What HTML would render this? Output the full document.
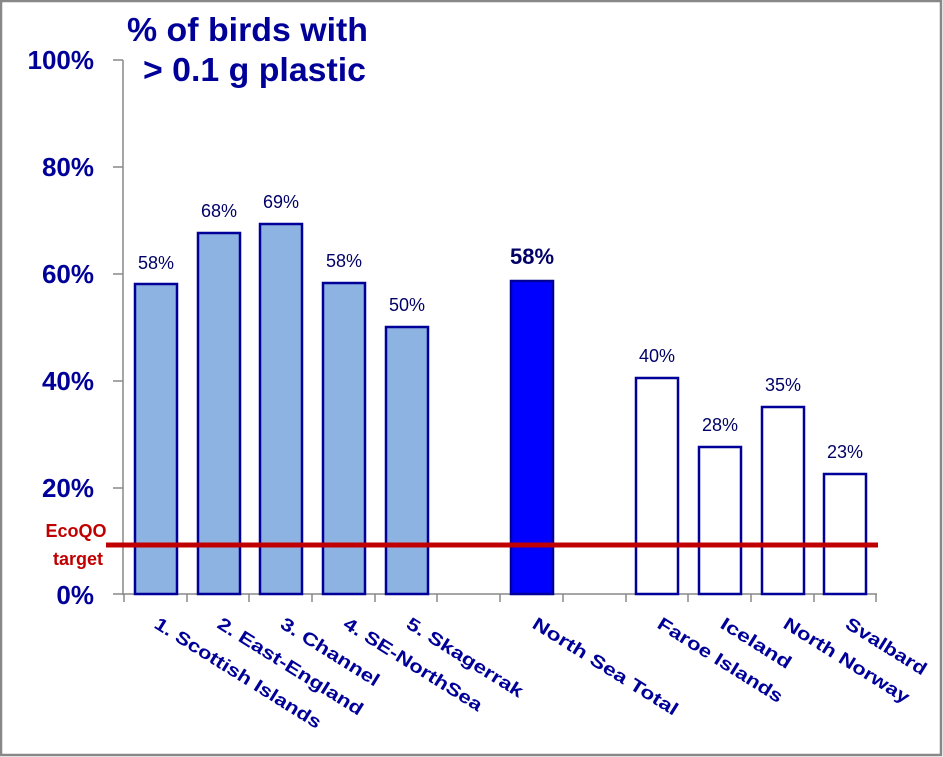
<!DOCTYPE html>
<html><head><meta charset="utf-8"><style>
html,body{margin:0;padding:0;background:#fff}
svg{display:block}
</style></head><body>
<svg width="943" height="757" viewBox="0 0 943 757" xmlns="http://www.w3.org/2000/svg" font-family="Liberation Sans, sans-serif">
<rect x="1" y="1" width="940" height="754" fill="#fff" stroke="#888" stroke-width="2.5"/>
<g fill="#000099" font-weight="bold">
<text x="127" y="41" font-size="33" textLength="241" lengthAdjust="spacingAndGlyphs">% of birds with</text>
<text x="143" y="81" font-size="33" textLength="223" lengthAdjust="spacingAndGlyphs">&gt; 0.1 g plastic</text>
<g font-size="26" text-anchor="end">
<text x="94" y="69">100%</text>
<text x="94" y="176">80%</text>
<text x="94" y="283">60%</text>
<text x="94" y="390">40%</text>
<text x="94" y="497">20%</text>
<text x="94" y="604">0%</text>
</g>
</g>
<g stroke="#888" stroke-width="1.5" fill="none">
<line x1="123" y1="60" x2="123" y2="595"/>
<line x1="113" y1="60" x2="123" y2="60"/>
<line x1="113" y1="167" x2="123" y2="167"/>
<line x1="113" y1="274" x2="123" y2="274"/>
<line x1="113" y1="381" x2="123" y2="381"/>
<line x1="113" y1="488" x2="123" y2="488"/>
<line x1="113" y1="594" x2="877" y2="594"/>
<path d="M124 594v8M187 594v8M249 594v8M312 594v8M375 594v8M437 594v8M500 594v8M563 594v8M626 594v8M688 594v8M751 594v8M814 594v8M876 594v8"/>
</g>
<g stroke="#000099" stroke-width="2.5">
<rect x="135" y="284" width="42" height="310" fill="#8db3e2"/>
<rect x="198" y="233" width="42" height="361" fill="#8db3e2"/>
<rect x="260" y="224" width="42" height="370" fill="#8db3e2"/>
<rect x="323" y="283" width="42" height="311" fill="#8db3e2"/>
<rect x="386" y="327" width="42" height="267" fill="#8db3e2"/>
<rect x="511" y="281" width="42" height="313" fill="#0000ff"/>
<rect x="636" y="378" width="42" height="216" fill="#fff"/>
<rect x="699" y="447" width="42" height="147" fill="#fff"/>
<rect x="762" y="407" width="42" height="187" fill="#fff"/>
<rect x="824" y="474" width="42" height="120" fill="#fff"/>
</g>
<g fill="#000066" font-size="18" text-anchor="middle">
<text x="156" y="269">58%</text>
<text x="219" y="217">68%</text>
<text x="281" y="208">69%</text>
<text x="344" y="267">58%</text>
<text x="407" y="311">50%</text>
<text x="532" y="264" font-size="22" font-weight="bold">58%</text>
<text x="657" y="362">40%</text>
<text x="720" y="431">28%</text>
<text x="783" y="391">35%</text>
<text x="845" y="458">23%</text>
</g>
<line x1="106" y1="545" x2="878" y2="545" stroke="#c00000" stroke-width="5"/>
<g fill="#c00000" font-size="18" font-weight="bold" text-anchor="middle">
<text x="76" y="537">EcoQO</text>
<text x="78" y="565">target</text>
</g>
<g fill="#000099" font-size="18" font-weight="bold">
<text transform="translate(153,627) rotate(32)" textLength="193" lengthAdjust="spacingAndGlyphs">1. Scottish Islands</text>
<text transform="translate(216,627) rotate(32)" textLength="168" lengthAdjust="spacingAndGlyphs">2. East-England</text>
<text transform="translate(279,627) rotate(32)" textLength="113" lengthAdjust="spacingAndGlyphs">3. Channel</text>
<text transform="translate(342,627) rotate(32)" textLength="160" lengthAdjust="spacingAndGlyphs">4. SE-NorthSea</text>
<text transform="translate(405,627) rotate(32)" textLength="134" lengthAdjust="spacingAndGlyphs">5. Skagerrak</text>
<text transform="translate(531,627) rotate(32)" textLength="168" lengthAdjust="spacingAndGlyphs">North Sea Total</text>
<text transform="translate(656,627) rotate(32)" textLength="144" lengthAdjust="spacingAndGlyphs">Faroe Islands</text>
<text transform="translate(719,627) rotate(32)" textLength="80" lengthAdjust="spacingAndGlyphs">Iceland</text>
<text transform="translate(782,627) rotate(32)" textLength="145" lengthAdjust="spacingAndGlyphs">North Norway</text>
<text transform="translate(844,627) rotate(32)" textLength="92" lengthAdjust="spacingAndGlyphs">Svalbard</text>
</g>
</svg>
</body></html>
